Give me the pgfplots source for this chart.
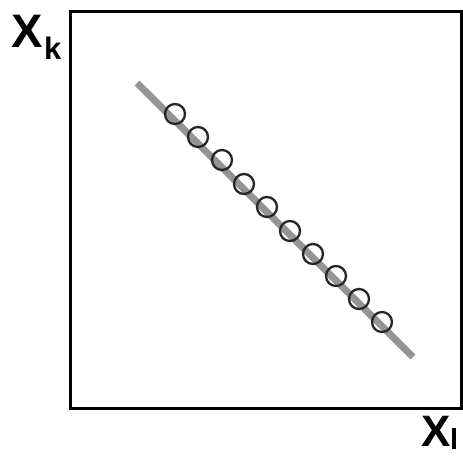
\documentclass[border=0pt]{standalone}
\usepackage{fontspec}
\setmainfont{Liberation Sans}
\usepackage{pgfplots}
\pgfplotsset{compat=1.18}
\begin{document}
\begin{tikzpicture}
\begin{axis}[scale only axis, width=390pt, height=396.5pt,
  xmin=71, xmax=461, ymin=11.5, ymax=408, y dir=reverse,
  axis line style={line width=3pt, black}, ticks=none, clip=false]
\addplot[only marks, mark=o, mark size=10pt, mark options={line width=2.3pt, draw=black!85}]
  coordinates {(175,114) (198,137) (222,160) (244,184) (267,207) (290,231) (313,254) (336,276) (359,299) (382,322)};
\addplot[line width=7pt, color=black!42, no markers] coordinates {(137,83) (413,357)};
\node[anchor=base west, inner sep=0pt] at (axis cs:11,47) {\fontsize{47}{47}\selectfont\bfseries X};
\node[anchor=base west, inner sep=0pt] at (axis cs:44,59) {\fontsize{31}{31}\selectfont\bfseries k};
\node[anchor=base west, inner sep=0pt] at (axis cs:421,446) {\fontsize{44}{44}\selectfont\bfseries X};
\node[anchor=base west, inner sep=0pt] at (axis cs:450,449) {\fontsize{29}{29}\selectfont\bfseries l};
\coordinate (bl) at (axis cs:0,459);
\coordinate (tr) at (axis cs:463,0);
\end{axis}
\pgfresetboundingbox
\path[use as bounding box] (bl) rectangle (tr);
\end{tikzpicture}
\end{document}
